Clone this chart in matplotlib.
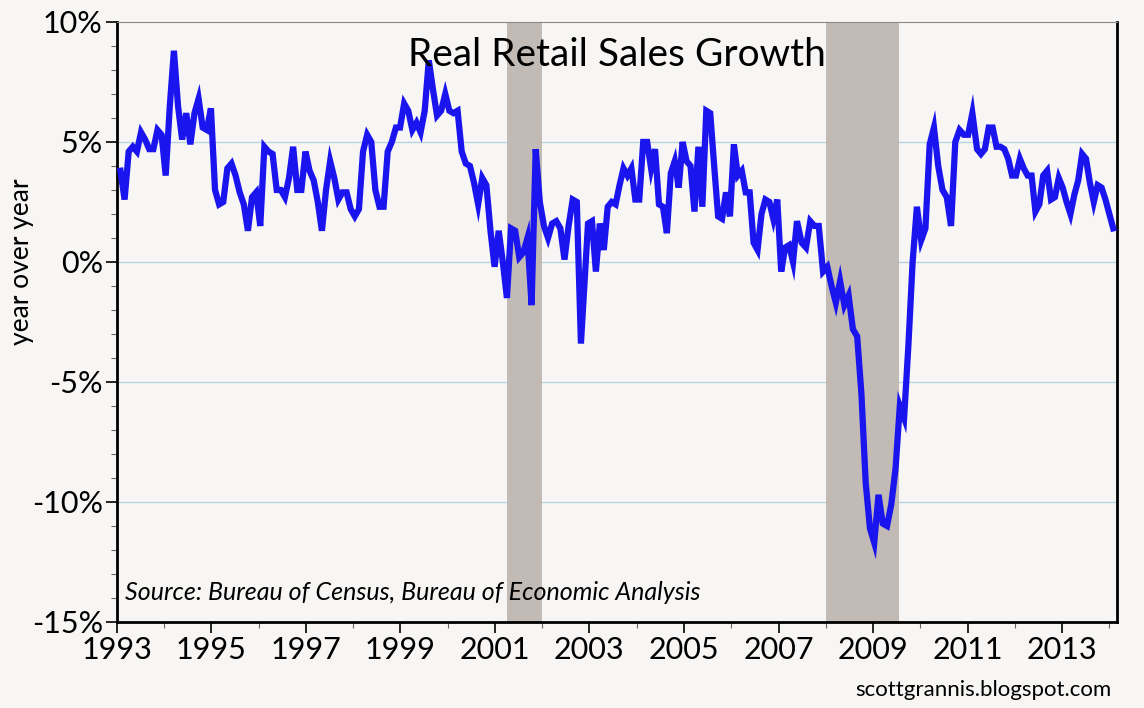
import numpy as np
import matplotlib
matplotlib.use('Agg')
from matplotlib import pyplot as plt
from matplotlib.ticker import MultipleLocator, FuncFormatter

plt.rcParams['font.family'] = ['Lato', 'DejaVu Sans']

# yoy % growth in four stretches (start year, end year, values)
seg_a = [3.8,2.6,4.6,4.8,4.6,5.4,5.1,4.7,4.7,5.5, 5.3,3.6,6.5,8.8,6.5,5.1,6.2,4.9,6.2,6.8,
         5.6,5.5,6.4,3.0,2.4,2.5,3.9,4.1,3.6,2.9, 2.4,1.3,2.7,2.9,1.5,4.8,4.6,4.5,3.0,3.0,
         2.7,3.5,4.8,3.0,3.0,4.6,3.8,3.4,2.5,1.3, 3.0,4.2,3.5,2.6,2.9,2.9,2.2,1.9,2.2,4.6,
         5.3,5.0,3.0,2.3,2.3,4.6,5.0,5.6,5.6,6.6, 6.3,5.5,5.8,5.4,6.3,8.4,7.2,6.1,6.3,7.0,
         6.3,6.2,6.3,4.6,4.1,4.0,3.3,2.4,3.5,3.2, 1.3,-0.2,1.3,0.0,-1.5,1.4,1.3,0.2,0.4,1.0,
         -1.8,4.7,2.5,1.5,1.0,1.6,1.7,1.4,0.1,1.5, 2.6,2.5,-3.4]
seg_b = [1.6,1.7,-0.4,1.6,0.5,2.3,2.5,2.4,3.2,3.9, 3.6,3.9,2.6,2.6,5.0,5.0,3.9,4.7,2.4,2.3,
         1.2,3.7,4.2,3.1,5.0,4.2,4.0,2.1,4.8,2.3, 6.3,6.2,4.0,1.9,1.8,2.9,1.9,4.9,3.6,3.8,
         2.9,2.9,0.8,0.5,2.0,2.6,2.5,1.8,2.6,-0.4, 0.6,0.7,0.0,1.7]
seg_c = [0.8,0.6,1.7,1.5,1.5,-0.4,-0.2,-1.0,-1.7,-0.8, -1.8,-1.4,-2.8,-3.1,-5.5,-9.2,-11.1,-11.7,-9.7,-10.9,
         -11.0,-10.1,-8.6,-6.0,-6.5,-3.5,0.0,2.3,0.9,1.4, 4.9,5.6,4.0,3.0,2.7,1.5,5.0,5.5,5.3,5.3, 6.2]
seg_d = [4.7,4.5,4.7,5.6,5.6,4.8,4.8,4.7,4.3,3.6, 3.6,4.3,3.9,3.6,3.6,2.1,2.4,3.6,3.8,2.6,
         2.7,3.5,3.1,2.5,2.0,2.8,3.4,4.5,4.3,3.3, 2.5,3.2,3.1,2.6,2.0,1.4]
seg_span = [(1993.08, 2002.82), (2002.97, 2007.39), (2007.49, 2011.10), (2011.20, 2014.08)]
recessions = [(2001.25, 2002.0), (2008.0, 2009.55)]
y_ticks = [10, 5, 0, -5, -10, -15]

x, y = [], []
for seg, (s, e) in zip([seg_a, seg_b, seg_c, seg_d], seg_span):
    x += list(np.linspace(s, e, len(seg)))
    y += seg

bg = '#f7f6f4'
fig = plt.figure(figsize=(11.44, 7.08), dpi=100, facecolor=bg)
ax = fig.add_axes([0.102, 0.1215, 0.874, 0.8475], facecolor=bg)
for a, b in recessions:
    ax.axvspan(a, b, color='#c2bab5', lw=0, zorder=1)
for t in y_ticks[1:-1]:
    ax.axhline(t, color='#b9d3e3', lw=1, zorder=0)
ax.plot(x, y, color='#1a14ee', lw=4.5, zorder=3, solid_joinstyle='miter')

ax.set_xlim(1993, 2014.15)
ax.set_ylim(-15, 10)
ax.set_xticks(range(1993, 2015, 2))
ax.xaxis.set_minor_locator(MultipleLocator(1))
ax.set_yticks(y_ticks)
ax.yaxis.set_minor_locator(MultipleLocator(1))
ax.yaxis.set_major_formatter(FuncFormatter(lambda v, p: '%d%%' % v))
ax.tick_params(labelsize=22, length=8, width=1.2, direction='out', pad=2)
ax.tick_params(which='minor', length=4, width=0.8, color='#666666')
for s in ['left', 'bottom', 'right']:
    ax.spines[s].set_linewidth(2)
ax.spines['top'].set_color('#888888')
ax.set_ylabel('year over year', fontsize=19)
ax.yaxis.set_label_coords(-0.083, 0.6)

ax.text(0.5, 0.945, 'Real Retail Sales Growth', transform=ax.transAxes, ha='center',
        va='center', fontsize=28)
ax.text(0.008, 0.03, 'Source: Bureau of Census, Bureau of Economic Analysis',
        transform=ax.transAxes, fontsize=18, style='italic', va='bottom')
fig.text(0.972, 0.012, 'scottgrannis.blogspot.com', ha='right', va='bottom', fontsize=16)

fig.savefig('out.png', dpi=100, facecolor=bg)
